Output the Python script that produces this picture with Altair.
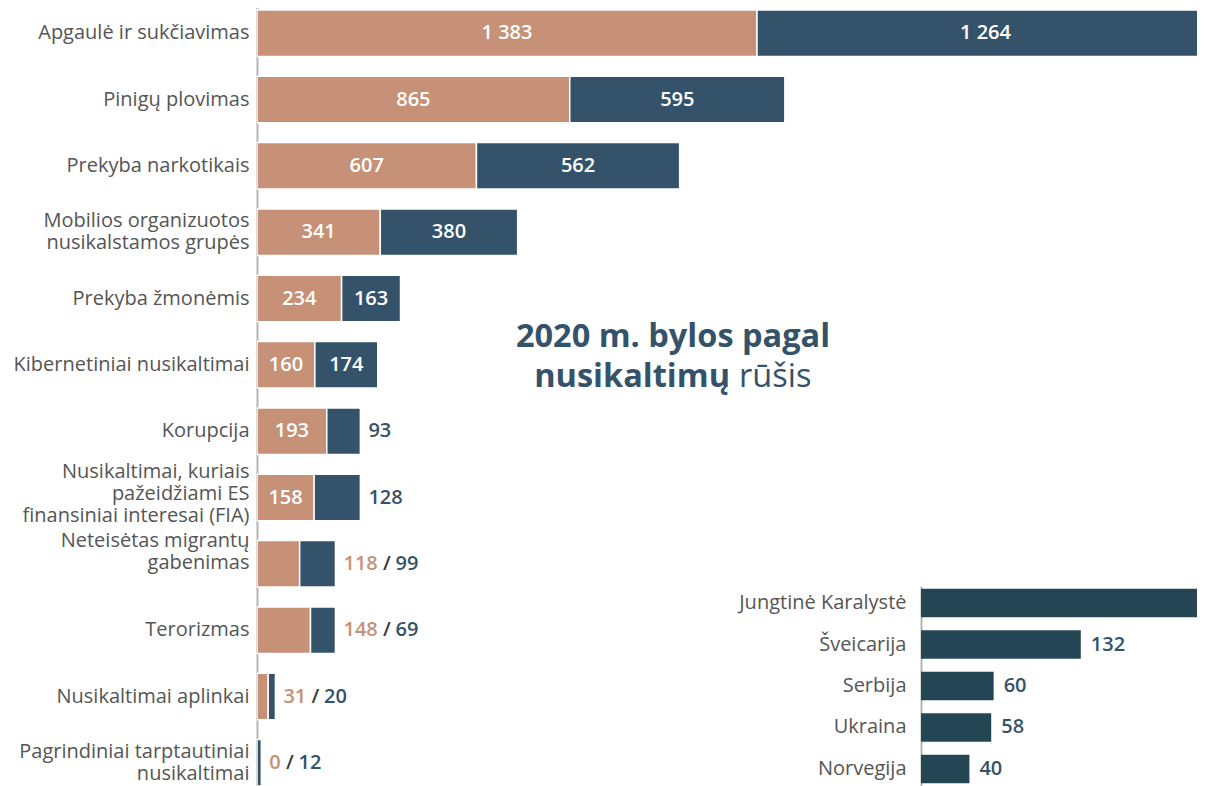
import altair as alt
import pandas as pd

# ---------------- data ----------------
categories = [
    "Apgaulė ir sukčiavimas",
    "Pinigų plovimas",
    "Prekyba narkotikais",
    "Mobilios organizuotos\nnusikalstamos grupės",
    "Prekyba žmonėmis",
    "Kibernetiniai nusikaltimai",
    "Korupcija",
    "Nusikaltimai, kuriais\npažeidžiami ES\nfinansiniai interesai (FIA)",
    "Neteisėtas migrantų\ngabenimas",
    "Terorizmas",
    "Nusikaltimai aplinkai",
    "Pagrindiniai tarptautiniai\nnusikaltimai",
]
series1 = [1383, 865, 607, 341, 234, 160, 193, 158, 118, 148, 31, 0]
series2 = [1264, 595, 562, 380, 163, 174, 93, 128, 99, 69, 20, 12]

countries = ["Jungtinė Karalystė", "Šveicarija", "Serbija", "Ukraina", "Norvegija"]
country_cases = [240, 132, 60, 58, 40]

ORANGE = "#c69176"
BLUE = "#34536a"
DARK = "#244654"
GRAY = "#555555"
SLASH = "#3a3a3a"
FONT = "Open Sans"
FS = 20

MAIN_MAX = 2600   # visible part of the main value axis (chart is cropped on the right)
INSET_MAX = 228   # visible part of the inset value axis


def fmt(v):
    return f"{v:,}".replace(",", " ")


# ---------------- derived tables ----------------
bar_rows, inside_rows, single_rows, combo_rows = [], [], [], []
for c, a, b in zip(categories, series1, series2):
    bar_rows.append(dict(cat=c, series="s1", start=0, end=a))
    bar_rows.append(dict(cat=c, series="s2", start=a, end=a + b))
    if a >= 150:
        inside_rows.append(dict(cat=c, mid=a / 2, label=fmt(a)))
        if b >= 150:
            inside_rows.append(dict(cat=c, mid=a + b / 2, label=fmt(b)))
        else:
            single_rows.append(dict(cat=c, total=a + b, label=fmt(b)))
    else:
        combo_rows.append(dict(cat=c, total=a + b, first=fmt(a), second=fmt(b),
                               nd=len(str(a))))

bars_df = pd.DataFrame(bar_rows)
inside_df = pd.DataFrame(inside_rows)
single_df = pd.DataFrame(single_rows)
combo_df = pd.DataFrame(combo_rows)
inset_df = pd.DataFrame(dict(country=countries, value=country_cases,
                             label=[fmt(v) for v in country_cases]))
inset_lbl_df = inset_df[inset_df["value"] < INSET_MAX * 0.85]

# ---------------- main chart ----------------
x_main = alt.Scale(domain=[0, MAIN_MAX], nice=False, zero=True)
y_main = alt.Scale(range=[-8, 788], paddingInner=0.30, paddingOuter=0.15)

LH = 22
label_offset = {
    "condition": [
        {"test": "indexof(datum.value, 'Neteisėtas') == 0", "value": -LH / 2 - 12},
        {"test": "indexof(datum.value, '(FIA)') >= 0", "value": -LH - 4},
        {"test": "length(split(datum.value, '\\n')) == 2", "value": -LH / 2},
    ],
    "value": 0,
}
y_axis = alt.Axis(orient="left", title=None, labelExpr="split(datum.value, '\\n')",
                  labelPadding=8, labelLimit=400, labelLineHeight=LH,
                  labelOffset=label_offset)

Y = alt.Y("cat:N", sort=categories, scale=y_main, axis=y_axis)
X = lambda f: alt.X(f, scale=x_main, axis=None)

bars = alt.Chart(bars_df).mark_bar(clip=True, stroke="white", strokeWidth=1.5).encode(
    x=X("start:Q"),
    x2="end:Q",
    y=Y,
    color=alt.Color("series:N", scale=alt.Scale(domain=["s1", "s2"], range=[ORANGE, BLUE]),
                    legend=None),
)

txt = dict(font=FONT, fontSize=FS, fontWeight=600, baseline="middle")

inside = alt.Chart(inside_df).mark_text(align="center", color="white", **txt).encode(
    x=X("mid:Q"), y=Y, text="label:N")

DX0 = 8
single = alt.Chart(single_df).mark_text(align="left", dx=DX0, color=BLUE, **txt).encode(
    x=X("total:Q"), y=Y, text="label:N")

# "a / b" labels: three pieces placed one after another (tabular digits)
DIGIT = 0.572 * FS
SPACE = 0.26 * FS
SLASHW = 0.37 * FS
combo_layers = [
    alt.Chart(combo_df).mark_text(align="left", dx=DX0, color=ORANGE, **txt).encode(
        x=X("total:Q"), y=Y, text="first:N")
]
for nd in sorted(combo_df["nd"].unique()):
    sub = combo_df[combo_df["nd"] == nd]
    d1 = DX0 + nd * DIGIT + SPACE
    d2 = d1 + SLASHW + SPACE
    combo_layers.append(
        alt.Chart(sub).mark_text(align="left", dx=d1, color=SLASH, text="/", **txt).encode(
            x=X("total:Q"), y=Y))
    combo_layers.append(
        alt.Chart(sub).mark_text(align="left", dx=d2, color=BLUE, **txt).encode(
            x=X("total:Q"), y=Y, text="second:N"))

one = alt.Data(values=[{}])
TFS = 32.5
title1 = alt.Chart(one).mark_text(text="2020 m. bylos pagal", font=FONT, fontSize=TFS,
                                  fontWeight="bold", color=BLUE, align="center",
                                  baseline="alphabetic").encode(
    x=alt.value(416), y=alt.value(339))
title2a = alt.Chart(one).mark_text(text="nusikaltimų", font=FONT, fontSize=TFS,
                                   fontWeight="bold", color=BLUE, align="right",
                                   baseline="alphabetic").encode(
    x=alt.value(473), y=alt.value(379))
title2b = alt.Chart(one).mark_text(text="rūšis", font=FONT, fontSize=TFS,
                                   fontWeight="normal", color=BLUE, align="left",
                                   baseline="alphabetic").encode(
    x=alt.value(482), y=alt.value(379))

main = alt.layer(bars, inside, single, *combo_layers, title1, title2a, title2b)

# ---------------- inset chart ----------------
x_in = alt.Scale(domain=[0, INSET_MAX], range=[664, 940], nice=False, zero=True)
y_in = alt.Scale(range=[578, 778], paddingInner=0.31, paddingOuter=0.065)
Y_in = alt.Y("country:N", sort=countries, scale=y_in,
             axis=alt.Axis(orient="left", offset=-664, title=None, labelPadding=15,
                           labelLimit=300))

inset_bars = alt.Chart(inset_df).mark_bar(clip=True, color=DARK).encode(
    x=alt.X("value:Q", scale=x_in, axis=None), y=Y_in)
inset_text = alt.Chart(inset_lbl_df).mark_text(align="left", dx=10, color=BLUE,
                                                **txt).encode(
    x=alt.X("value:Q", scale=x_in, axis=None), y=Y_in, text="label:N")

inset = alt.layer(inset_bars, inset_text)

chart = alt.layer(main, inset).resolve_scale(x="independent", y="independent").properties(
    width=940, height=778,
    autosize=alt.AutoSizeParams(type="none"),
    padding={"left": 249, "top": 0, "right": 0, "bottom": 0},
).configure_view(stroke=None).configure_axis(
    labelFont=FONT, labelFontSize=FS, labelColor=GRAY,
    domainColor="#b5b5b5", domainWidth=2, ticks=False, grid=False,
)

chart.save("out.html", embed_options={"renderer": "svg", "actions": False})
